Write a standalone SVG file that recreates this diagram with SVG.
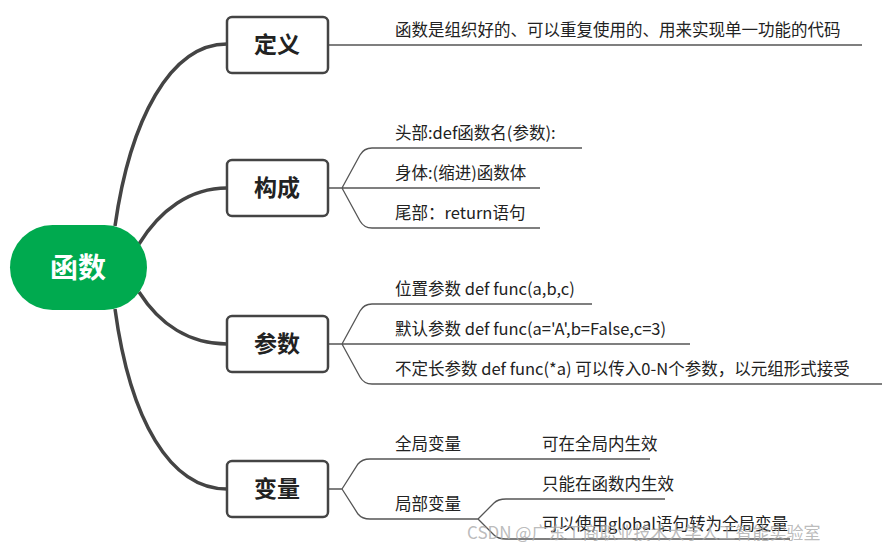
<svg xmlns="http://www.w3.org/2000/svg" width="891" height="552" viewBox="0 0 891 552">
<style>
.m{fill:none;stroke:#444;stroke-width:3.5}
.t{fill:none;stroke:#555;stroke-width:1.3}
.box{fill:#fff;stroke:#444;stroke-width:2.5}
.bl{font-family:"Noto Sans CJK SC",sans-serif;font-weight:bold;font-size:23px;fill:#222;text-anchor:middle}
.lb{font-family:"Noto Sans CJK SC","Liberation Sans",sans-serif;font-size:16.5px;fill:#222}
</style>
<rect width="891" height="552" fill="#fff"/>
<g id="connectors">
<path class="m" d="M115 226 C130 120 170 44 227 44"/>
<path class="m" d="M139 244 C160 210 190 188 227 188"/>
<path class="m" d="M139 292 C160 325 190 344 227 344"/>
<path class="m" d="M115 309 C130 420 170 489 227 489"/>
<path class="t" d="M328 45 H862"/>
<path class="t" d="M328 188 H342 M342 188 L360 155 Q364 148 372 148 H582 M342 188 H540 M342 188 L360 221 Q364 228 372 228 H540"/>
<path class="t" d="M328 344 H342 M342 344 L360 311 Q364 304 372 304 H592 M342 344 H690 M342 344 L360 377 Q364 384 372 384 H882"/>
<path class="t" d="M328 489 H342 M342 489 L358 464 Q362 459 370 459 H650 M342 489 L358 514 Q362 519 370 519 H478 M478 519 L494 503 Q498 499 506 499 H665 M478 519 L494 535 Q498 539 506 539 H790"/>
</g>
<g id="root"><rect x="10" y="225" width="137" height="85" rx="42.5" fill="#00AA4F"/><text x="78" y="278" class="bl" style="fill:#fff;font-size:28px">函数</text></g>
<g id="n1"><rect class="box" x="227" y="17" width="101" height="56" rx="5"/><text class="bl" x="277" y="53">定义</text></g>
<g id="n2"><rect class="box" x="227" y="160" width="101" height="56" rx="5"/><text class="bl" x="277" y="196">构成</text></g>
<g id="n3"><rect class="box" x="227" y="316" width="101" height="56" rx="5"/><text class="bl" x="277" y="352">参数</text></g>
<g id="n4"><rect class="box" x="227" y="461" width="101" height="56" rx="5"/><text class="bl" x="277" y="497">变量</text></g>
<g id="labels">
<text class="lb" x="395" y="36">函数是组织好的、可以重复使用的、用来实现单一功能的代码</text>
<text class="lb" x="395" y="139">头部:def函数名(参数):</text>
<text class="lb" x="395" y="179">身体:(缩进)函数体</text>
<text class="lb" x="395" y="219">尾部：return语句</text>
<text class="lb" x="395" y="295">位置参数 def func(a,b,c)</text>
<text class="lb" x="395" y="335">默认参数 def func(a='A',b=False,c=3)</text>
<text class="lb" x="395" y="375">不定长参数 def func(*a) 可以传入0-N个参数，以元组形式接受</text>
<text class="lb" x="395" y="450">全局变量</text>
<text class="lb" x="395" y="510">局部变量</text>
<text class="lb" x="542" y="450">可在全局内生效</text>
<text class="lb" x="542" y="490">只能在函数内生效</text>
<text class="lb" x="542" y="530">可以使用global语句转为全局变量</text>
<text class="lb" x="467" y="539" style="fill:#aaa;fill-opacity:0.8;font-size:17px">CSDN @广东工商职业技术大学人工智能实验室</text>
</g>
</svg>
